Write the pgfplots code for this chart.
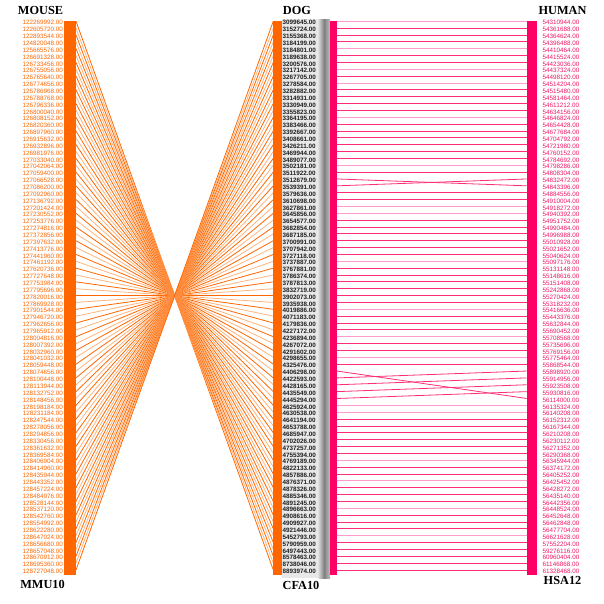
\documentclass[border=0pt]{standalone}
\usepackage{fontspec}
\setmainfont{Liberation Serif}
\newfontfamily\labfont{Liberation Sans}
\usepackage{pgfplots}
\usepackage{pgfplotstable}
\pgfplotsset{compat=1.18}

\definecolor{mmuorange}{RGB}{255,102,0}
\definecolor{hsapink}{RGB}{255,0,102}
\definecolor{humtext}{RGB}{240,20,100}
\definecolor{dogtext}{RGB}{30,30,30}

\newcommand\lab{\labfont\fontsize{6.3}{6.3}\selectfont}
\newcommand\ttl{\fontsize{12.3}{13}\selectfont\bfseries}

% row: position in each column; mdog: dog row a mouse row joins;
% hrow: human row a dog row joins; oc/pc: line shade
\pgfplotstableread{
row mouse dog human mdog hrow oc pc
0 122269992.00 3099645.00 54310944.00 80 0 0 3
1 122605720.00 3152724.00 54361688.00 79 1 1 2
2 122893544.00 3155368.00 54364624.00 78 2 0 2
3 124820048.00 3184199.00 54396488.00 77 3 1 2
4 125665576.00 3184801.00 54410464.00 76 4 0 3
5 126691328.00 3189638.00 54415524.00 75 5 1 2
6 126733456.00 3200576.00 54423036.00 74 6 0 2
7 126755056.00 3217142.00 54437324.00 73 7 1 3
8 126765640.00 3267705.00 54498120.00 72 8 0 2
9 126774656.00 3278584.00 54514204.00 71 9 1 3
10 126786968.00 3282882.00 54515480.00 70 10 0 2
11 126788768.00 3314931.00 54581464.00 69 11 1 2
12 126796336.00 3330949.00 54611212.00 68 12 0 2
13 126800040.00 3355823.00 54634156.00 67 13 1 2
14 126808152.00 3364195.00 54646824.00 66 14 0 3
15 126820360.00 3383466.00 54654428.00 65 15 1 2
16 126897960.00 3392667.00 54677684.00 64 16 0 2
17 126915632.00 3408661.00 54704792.00 63 17 1 2
18 126932896.00 3426211.00 54721980.00 62 18 0 2
19 126981976.00 3469944.00 54760152.00 61 19 1 2
20 127033040.00 3489077.00 54784692.00 60 20 0 2
21 127042064.00 3502181.00 54798286.00 59 21 1 3
22 127059400.00 3511922.00 54808304.00 58 22 0 2
23 127066528.00 3512679.00 54832472.00 57 24 1 2
24 127086200.00 3539391.00 54843396.00 56 23 0 2
25 127092960.00 3579636.00 54884556.00 55 25 1 2
26 127136792.00 3610698.00 54910004.00 54 26 0 2
27 127201424.00 3627861.00 54918272.00 53 27 1 3
28 127230552.00 3645856.00 54940392.00 52 28 0 3
29 127253776.00 3654577.00 54951752.00 51 29 1 2
30 127274816.00 3682854.00 54990484.00 50 30 0 2
31 127372856.00 3687185.00 54996988.00 49 31 1 2
32 127397632.00 3700991.00 55010928.00 48 32 0 2
33 127413776.00 3707942.00 55021652.00 47 33 1 2
34 127441960.00 3727118.00 55040624.00 46 34 0 2
35 127461192.00 3737887.00 55097176.00 45 35 1 3
36 127620736.00 3767881.00 55131148.00 44 36 0 2
37 127727648.00 3786374.00 55148616.00 43 37 1 2
38 127753984.00 3787813.00 55151408.00 42 38 0 2
39 127795696.00 3832719.00 55242868.00 41 39 1 2
40 127820016.00 3902073.00 55270424.00 40 40 0 2
41 127869928.00 3935938.00 55318232.00 39 41 1 2
42 127901544.00 4019886.00 55416636.00 38 42 0 3
43 127946720.00 4071183.00 55443376.00 37 43 1 2
44 127962656.00 4179836.00 55632844.00 36 44 0 2
45 127965912.00 4227172.00 55690452.00 35 45 1 2
46 128004816.00 4236894.00 55708568.00 34 46 0 3
47 128007392.00 4267072.00 55735696.00 33 47 1 2
48 128032960.00 4291602.00 55769156.00 32 48 0 2
49 128041032.00 4298655.00 55775464.00 31 49 1 3
50 128059448.00 4325476.00 55868544.00 30 50 0 2
51 128074656.00 4406298.00 55898920.00 29 55 1 2
52 128100448.00 4422593.00 55914956.00 28 51 0 2
53 128113944.00 4428165.00 55923508.00 27 52 1 2
54 128132752.00 4435549.00 55930816.00 26 53 0 2
55 128148456.00 4445294.00 56114000.00 25 54 1 2
56 128198184.00 4625924.00 56135324.00 24 56 0 3
57 128231184.00 4630538.00 56140208.00 23 57 1 3
58 128247544.00 4641194.00 56152312.00 22 58 0 2
59 128278056.00 4653788.00 56167344.00 21 59 1 2
60 128294856.00 4685947.00 56210208.00 20 60 0 2
61 128330456.00 4702026.00 56230112.00 19 61 1 2
62 128361632.00 4737257.00 56271352.00 18 62 0 2
63 128369584.00 4755394.00 56290368.00 17 63 1 2
64 128406904.00 4769189.00 56345944.00 16 64 0 3
65 128414960.00 4822133.00 56374172.00 15 65 1 2
66 128435944.00 4857886.00 56405252.00 14 66 0 2
67 128443352.00 4876371.00 56425452.00 13 67 1 3
68 128457224.00 4878326.00 56428272.00 12 68 0 2
69 128484976.00 4885346.00 56435140.00 11 69 1 2
70 128528144.00 4891245.00 56442356.00 10 70 0 2
71 128537120.00 4896663.00 56448524.00 9 71 1 3
72 128542760.00 4908616.00 56452648.00 8 72 0 2
73 128554992.00 4909927.00 56462848.00 7 73 1 2
74 128622280.00 4921446.00 56477704.00 6 74 0 2
75 128647024.00 5452793.00 56621628.00 5 75 1 3
76 128656680.00 5790959.00 57552204.00 4 76 0 2
77 128657048.00 6497443.00 59276116.00 3 77 1 2
78 128670912.00 8578463.00 60960404.00 2 78 0 2
79 128695360.00 8738046.00 61146868.00 1 79 1 2
80 128727048.00 8893974.00 61328468.00 0 80 0 2
}\syn

\begin{document}
\begin{tikzpicture}
\begin{axis}[
    scale only axis,
    width=604pt, height=604pt,
    xmin=0, xmax=604,
    ymin=-3.09, ymax=84.96,
    y dir=reverse,
    hide axis,
    clip=false,
    colormap={syn}{rgb255=(255,102,0) rgb255=(255,180,125) rgb255=(255,45,115) rgb255=(255,155,205)},
    point meta min=0, point meta max=3,
]
\path (rel axis cs:0,0) rectangle (rel axis cs:1,1);

% grey band behind dog labels
\addplot[draw=none, fill=black!9]
    coordinates {(281.7,-0.3) (318,-0.3) (318,81.2) (281.7,81.2)} -- cycle;
\addplot[draw=none, left color=black!12, right color=black!50]
    coordinates {(318,-0.3) (324,-0.3) (324,81.2) (318,81.2)} -- cycle;
\addplot[draw=none, left color=black!50, right color=black!25]
    coordinates {(324,-0.3) (330,-0.3) (330,81.2) (324,81.2)} -- cycle;

% mouse -> dog
\addplot[line width=0.8pt, point meta=\thisrow{oc},
    quiver={u=197.3, v=\thisrow{mdog}-\thisrow{row}, colored=mapped color}]
    table[x expr=76, y=row] {\syn};
% dog -> human
\addplot[line width=0.8pt, point meta=\thisrow{pc},
    quiver={u=189.7, v=\thisrow{hrow}-\thisrow{row}, colored=mapped color}]
    table[x expr=337, y=row] {\syn};

% chromosome bars
\addplot[draw=none, fill=mmuorange]
    coordinates {(64.3,-0.1) (76,-0.1) (76,80.7) (64.3,80.7)} -- cycle;
\addplot[draw=none, fill=mmuorange]
    coordinates {(273.3,-0.1) (281.7,-0.1) (281.7,80.7) (273.3,80.7)} -- cycle;
\addplot[draw=none, fill=hsapink]
    coordinates {(330,-0.1) (336.8,-0.1) (336.8,80.7) (330,80.7)} -- cycle;
\addplot[draw=none, fill=hsapink]
    coordinates {(526.7,-0.1) (537.3,-0.1) (537.3,80.7) (526.7,80.7)} -- cycle;

% position labels
\addplot[only marks, mark=*, mark size=0pt, mark options={draw=none, fill=none},
    nodes near coords, point meta=explicit symbolic,
    every node near coord/.append style={anchor=east, inner sep=0pt, yshift=-1.5pt, font=\lab, text=mmuorange}]
    table[x expr=63, y=row, meta=mouse] {\syn};
\addplot[only marks, mark=*, mark size=0pt, mark options={draw=none, fill=none},
    nodes near coords, point meta=explicit symbolic,
    every node near coord/.append style={anchor=west, inner sep=0pt, yshift=-1.5pt, font=\lab\bfseries, text=dogtext}]
    table[x expr=282.5, y=row, meta=dog] {\syn};
\addplot[only marks, mark=*, mark size=0pt, mark options={draw=none, fill=none},
    nodes near coords, point meta=explicit symbolic,
    every node near coord/.append style={anchor=west, inner sep=0pt, yshift=-1.5pt, font=\lab, text=humtext}]
    table[x expr=542.5, y=row, meta=human] {\syn};

% column titles
\node[font=\ttl] at (axis cs:40.5,-1.56) {MOUSE};
\node[font=\ttl] at (axis cs:297,-1.56) {DOG};
\node[font=\ttl] at (axis cs:562.5,-1.56) {HUMAN};
\node[font=\ttl] at (axis cs:42.5,82.05) {MMU10};
\node[font=\ttl] at (axis cs:301,82.33) {CFA10};
\node[font=\ttl] at (axis cs:562.5,81.6) {HSA12};
\end{axis}
\end{tikzpicture}
\end{document}
